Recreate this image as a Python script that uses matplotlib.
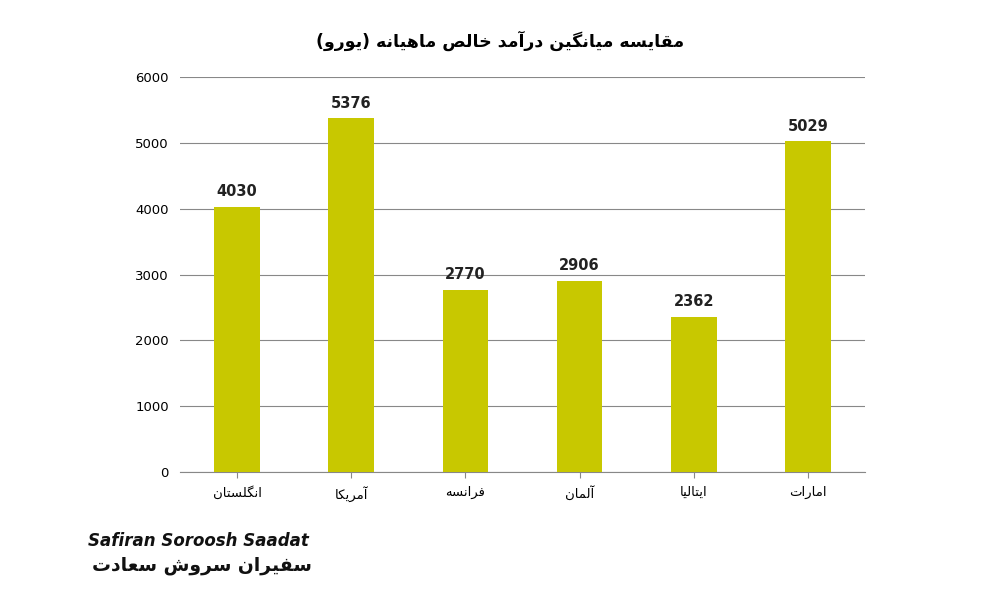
import matplotlib
matplotlib.use('Agg')
import matplotlib.pyplot as plt

# letter -> (isolated, final, initial, medial); None for initial/medial = does not join forward
FORMS = {
    'ا': (0xFE8D, 0xFE8E, None, None),
    'آ': (0xFE81, 0xFE82, None, None),
    'د': (0xFEA9, 0xFEAA, None, None),
    'ر': (0xFEAD, 0xFEAE, None, None),
    'و': (0xFEED, 0xFEEE, None, None),
    'ت': (0xFE95, 0xFE96, 0xFE97, 0xFE98),
    'خ': (0xFEA5, 0xFEA6, 0xFEA7, 0xFEA8),
    'س': (0xFEB1, 0xFEB2, 0xFEB3, 0xFEB4),
    'ش': (0xFEB5, 0xFEB6, 0xFEB7, 0xFEB8),
    'ص': (0xFEB9, 0xFEBA, 0xFEBB, 0xFEBC),
    'ع': (0xFEC9, 0xFECA, 0xFECB, 0xFECC),
    'ف': (0xFED1, 0xFED2, 0xFED3, 0xFED4),
    'ق': (0xFED5, 0xFED6, 0xFED7, 0xFED8),
    'ک': (0xFB8E, 0xFB8F, 0xFB90, 0xFB91),
    'گ': (0xFB92, 0xFB93, 0xFB94, 0xFB95),
    'ل': (0xFEDD, 0xFEDE, 0xFEDF, 0xFEE0),
    'م': (0xFEE1, 0xFEE2, 0xFEE3, 0xFEE4),
    'ن': (0xFEE5, 0xFEE6, 0xFEE7, 0xFEE8),
    'ه': (0xFEE9, 0xFEEA, 0xFEEB, 0xFEEC),
    'ی': (0xFBFC, 0xFBFD, 0xFBFE, 0xFBFF),
}


def fa(text):
    out = []
    for i, ch in enumerate(text):
        if ch not in FORMS:
            out.append(ch)
            continue
        prev = text[i - 1] if i > 0 else ''
        nxt = text[i + 1] if i + 1 < len(text) else ''
        joins_prev = prev in FORMS and FORMS[prev][2] is not None
        joins_next = nxt in FORMS and FORMS[ch][2] is not None
        iso, fin, ini, med = FORMS[ch]
        if joins_prev and joins_next:
            code = med
        elif joins_prev:
            code = fin
        elif joins_next:
            code = ini
        else:
            code = iso
        out.append(chr(code))
    s = ''.join(reversed(out))
    return s.translate(str.maketrans('()', ')('))


countries = ['انگلستان', 'آمریکا', 'فرانسه', 'آلمان', 'ایتالیا', 'امارات']
income = [4030, 5376, 2770, 2906, 2362, 5029]
title = 'مقایسه میانگین درآمد خالص ماهیانه (یورو)'

plt.rcParams['font.family'] = ['DejaVu Sans']
fig = plt.figure(figsize=(10, 6), dpi=100)
ax = fig.add_axes([0.18, 0.213, 0.685, 0.659])

x = range(len(countries))
bars = ax.bar(x, income, width=0.4, color='#C8C800', zorder=3)
for b, v in zip(bars, income):
    ax.text(b.get_x() + b.get_width() / 2, v + 110, str(v), ha='center', va='bottom',
            fontsize=10.5, fontweight='bold', color='#222222')

ax.set_ylim(0, 6000)
ax.set_xlim(-0.5, len(countries) - 0.5)
ax.set_yticks(range(0, 6001, 1000))
ax.set_xticks(list(x))
ax.set_xticklabels([fa(c) for c in countries], fontsize=9.5)
ax.tick_params(axis='y', labelsize=9.5, length=0, pad=8)
ax.tick_params(axis='x', length=4, color='#888888', pad=6)
ax.grid(axis='y', color='#888888', linewidth=0.8, zorder=0)
for side in ['top', 'right', 'left']:
    ax.spines[side].set_visible(False)
ax.spines['bottom'].set_color('#888888')

fig.text(0.5, 0.932, fa(title), ha='center', va='center', fontsize=12.5, fontweight='bold')

fig.text(0.088, 0.098, 'Safiran Soroosh Saadat', fontsize=12, fontweight='bold',
         style='italic', color='#111111', va='center')
fig.text(0.092, 0.058, fa('سفیران سروش سعادت'), fontsize=13.5, fontweight='bold',
         color='#111111', va='center')

fig.savefig('out.png', dpi=100)
